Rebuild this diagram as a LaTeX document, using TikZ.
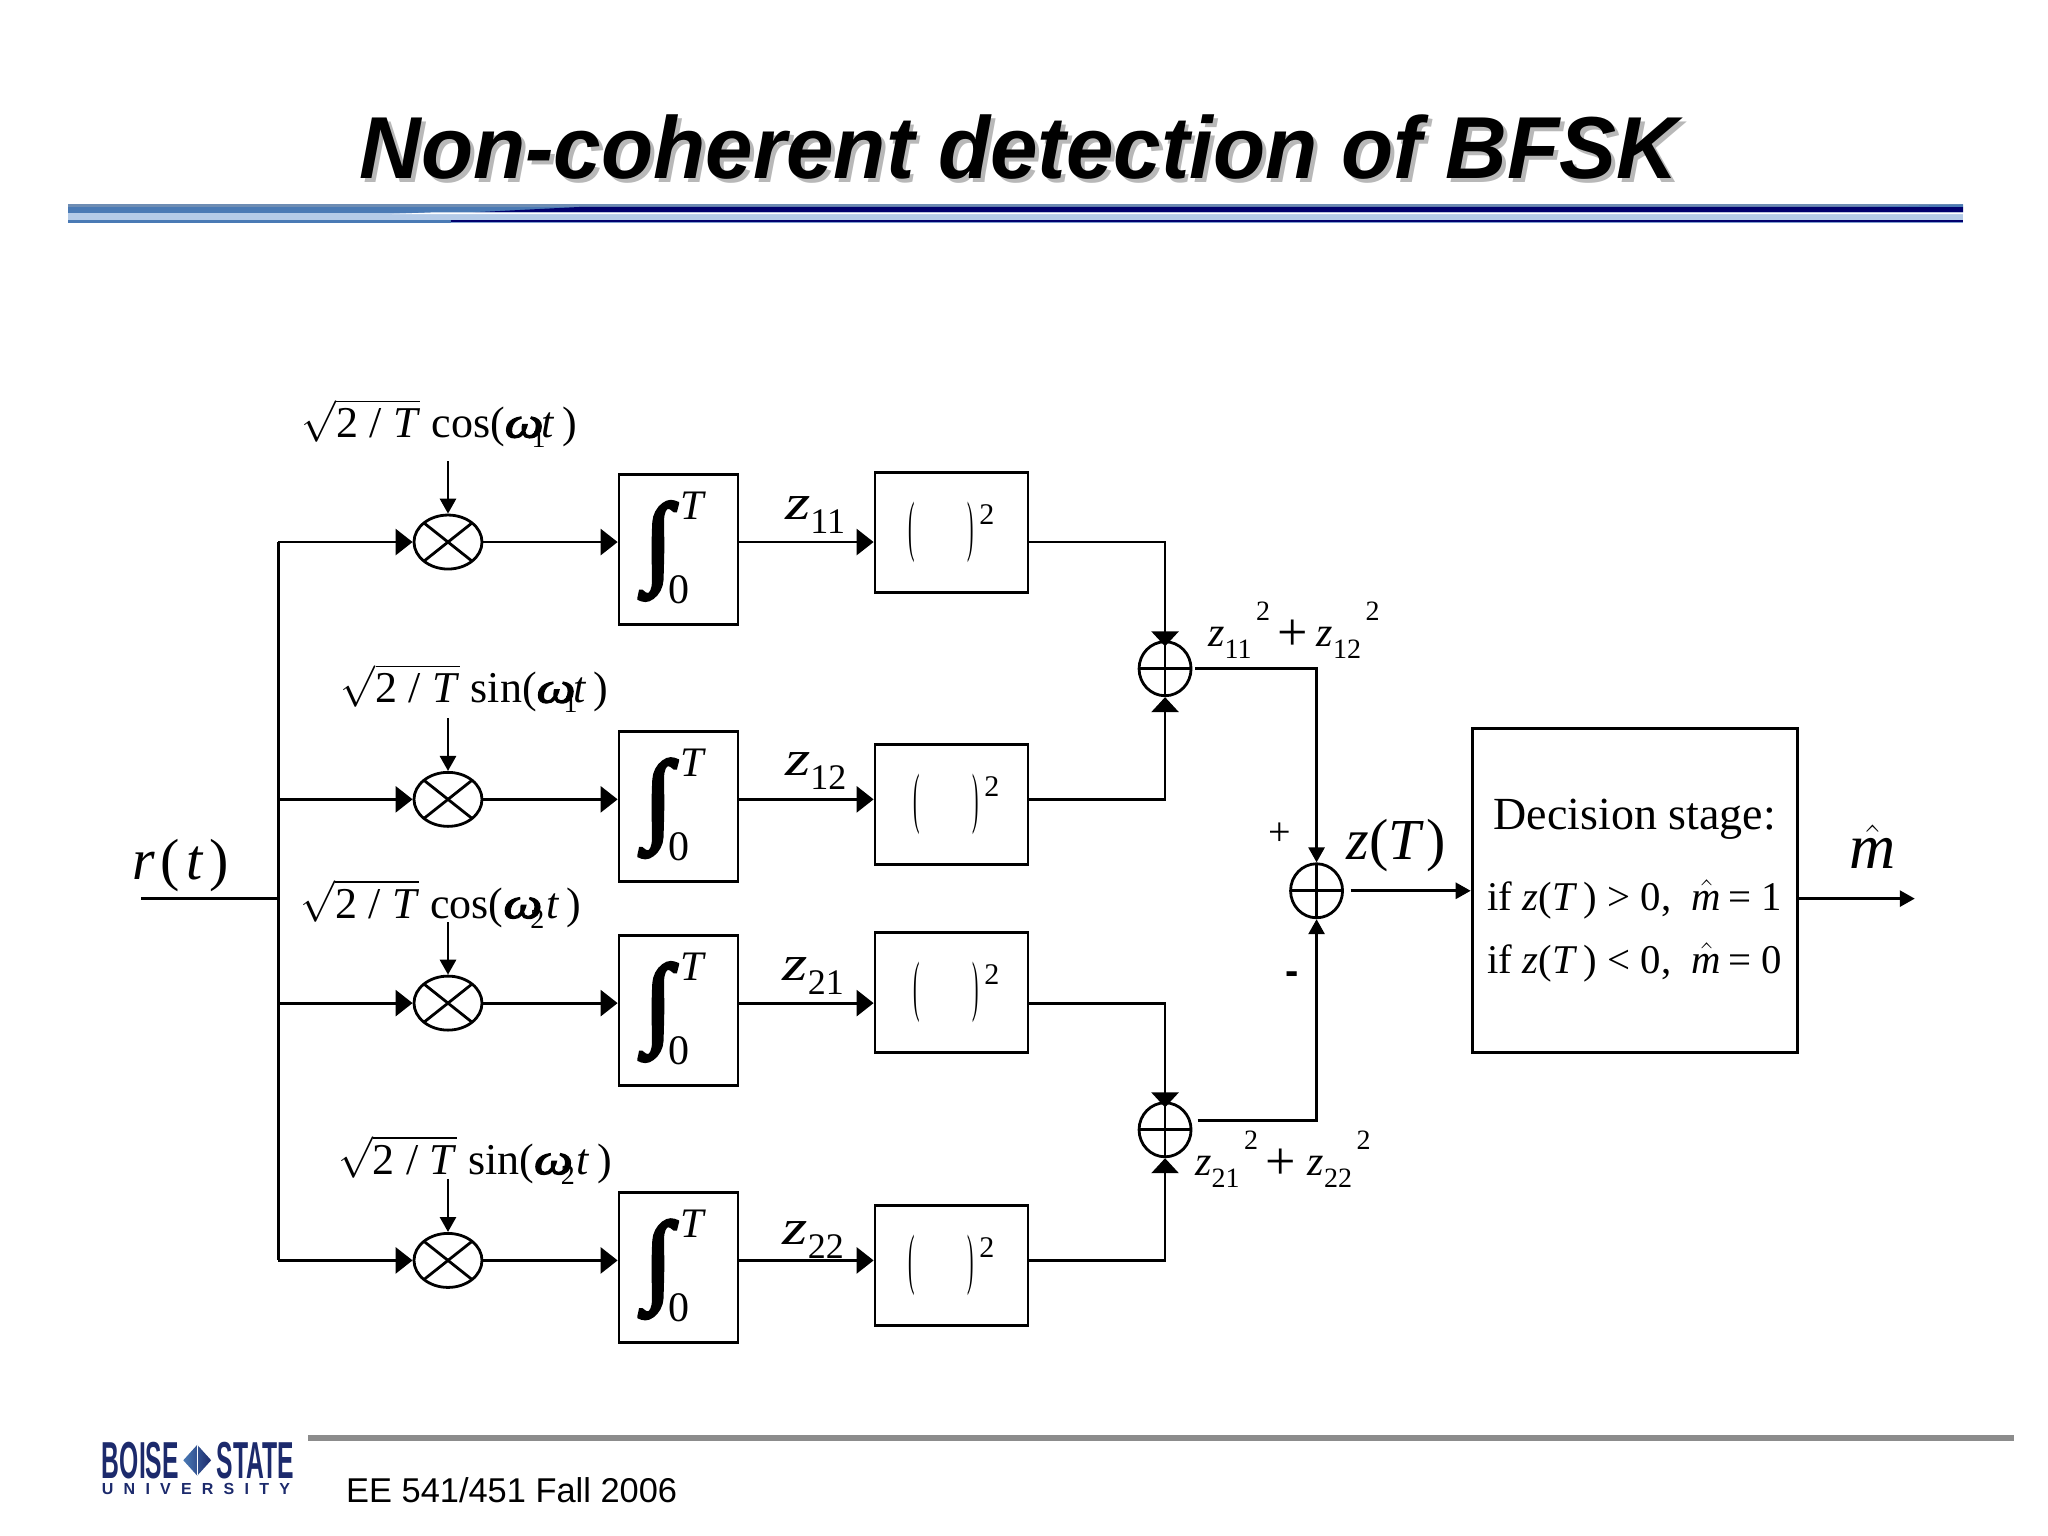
\documentclass[tikz,border=0pt]{standalone}
\usepackage{amsmath}
\usepackage{fontspec}
\usepackage{tikz}
\usetikzlibrary{arrows.meta,shapes.geometric}
\setmainfont{Liberation Serif}
\newfontfamily\sansf{Liberation Sans}
\newfontfamily\fatf[FakeBold=2.5]{Liberation Serif}
\newfontfamily\fatterf[FakeBold=4]{Liberation Serif}

\definecolor{bandblue}{HTML}{4A7AB5}
\definecolor{bandnavy}{HTML}{00006E}
\definecolor{bandpale}{HTML}{B4CBE8}
\definecolor{bandedge}{HTML}{6E8DB4}
\definecolor{bandlow}{HTML}{7F9FD0}
\definecolor{logonavy}{HTML}{1C2A6C}
\definecolor{footgray}{HTML}{8C8C8C}

% labels
\newcommand{\osc}[3]{$\sqrt{\mbox{2\hspace{5.7pt}/\hspace{5.7pt}\textit{T}}}$ #1({\fatf\itshape\scalebox{1.25}[1]{ω}}\hspace{-6pt}\rlap{\raisebox{-5pt}{\fontsize{14}{14}\selectfont #2}}\hspace{#3}\textit{t}\,)}
\newcommand{\zlab}[1]{\scalebox{1.3}[1]{\textit{z}}\raisebox{-7pt}{\fontsize{18}{18}\selectfont #1}}
\newcommand{\zpow}[1]{\textit{z}\raisebox{-6pt}{\fontsize{14}{14}\selectfont #1}\raisebox{13pt}{\fontsize{14}{14}\selectfont\,2}}
\newcommand{\intsym}{\smash{\rlap{\hspace{1pt}\raisebox{15pt}{\textit{T}}}\rlap{\hspace{-5pt}\raisebox{-27pt}{0}}\rlap{\hspace{-17pt}\raisebox{-12pt}{\fontsize{50}{50}\fatterf ∫}}}}
\newcommand{\sqsym}{\scalebox{.6}[2.1]{(}\hspace{26pt}\scalebox{.6}[2.1]{)}\hspace{3pt}\raisebox{12pt}{\fontsize{15}{15}\selectfont 2}}
\newcommand{\mhat}{$\hat{\mbox{\textit{m}}}$}
\newcommand{\bigplus}{\raisebox{-2pt}{\fontsize{27}{27}\selectfont +}}

\begin{document}
\begin{tikzpicture}[x=.653pt, y=-.653pt, line width=1.4pt]

\tikzstyle{wire} = [-{Triangle[length=8.5pt,width=13pt]}]
\tikzstyle{tinywire} = [-{Triangle[length=7.5pt,width=8pt]}]
\tikzstyle{addwire} = [-{Triangle[length=7.5pt,width=13.5pt]}]
\tikzstyle{txt} = [inner sep=0pt, anchor=base west]
\tikzstyle{intbox} = [rectangle, draw, inner sep=0pt, minimum width=59.5pt, minimum height=75pt, font=\fontsize{21}{21}\selectfont]
\tikzstyle{sqbox} = [rectangle, draw, inner sep=0pt, minimum width=76.5pt, minimum height=60pt, font=\fontsize{16}{16}\selectfont]
\tikzstyle{mult} = [ellipse, draw, inner sep=0pt, minimum width=34pt, minimum height=27pt,
  path picture={\draw (path picture bounding box.north west) -- (path picture bounding box.south east);
                \draw (path picture bounding box.south west) -- (path picture bounding box.north east);}]
\tikzstyle{adder} = [ellipse, draw, inner sep=0pt, minimum width=26pt, minimum height=27pt,
  path picture={\draw (path picture bounding box.north) -- (path picture bounding box.south);
                \draw (path picture bounding box.west) -- (path picture bounding box.east);}]
\tikzstyle{osclab} = [txt, font=\fontsize{22}{22}\selectfont]
\tikzstyle{zlabel} = [txt, font=\fontsize{25}{25}\selectfont]
\tikzstyle{zsum} = [txt, font=\fontsize{21}{21}\selectfont]

\useasboundingbox (0,0) rectangle (1568,1176);

% title and band
\node[txt, anchor=base, text=black!28, font=\fontsize{44}{44}\selectfont\sansf\bfseries\itshape] (titleshadow) at (783,140) {\scalebox{.97}[1]{Non-coherent detection of BFSK}};
\node[txt, anchor=base, font=\fontsize{44}{44}\selectfont\sansf\bfseries\itshape] (title) at (780,137) {\scalebox{.97}[1]{Non-coherent detection of BFSK}};

\fill[bandedge] (52,156.2) rectangle (1503,158.3);
\fill[bandblue] (52,158.3) rectangle (1503,163.2);
\fill[bandnavy] (362,162.6) -- (447,158.3) -- (1503,158.3) -- (1503,162.6) -- cycle;
\fill[bandblue] (1430,158.3) -- (1503,156.5) -- (1503,158.3) -- cycle;
\fill[bandpale] (52,163.2) rectangle (1503,168.5);
\fill[white] (300,163.9) -- (332,162.6) -- (1503,162.6) -- (1503,163.9) -- cycle;
\fill[bandblue] (52,168.5) rectangle (345,170.5);
\fill[bandnavy] (345,168.5) rectangle (1503,169.7);
\fill[bandlow] (345,169.7) rectangle (1503,170.5);

% input and bus
\node[txt, font=\fontsize{29}{29}\selectfont] (rlab) at (100,673) {\textit{r}\hspace{3pt}(\hspace{3pt}\textit{t}\hspace{3pt})};
\coordinate (rin) at (108,688);
\coordinate (b1) at (213,415);
\coordinate (b2) at (213,612);
\coordinate (b3) at (213,768);
\coordinate (b4) at (213,965);
\draw (b1) -- (b4);
\draw (rin) -- (rin -| b1);

% first row
\node[osclab] (o1) at (230,335) {\osc{cos}{1}{5pt}};
\node[mult] (m1) at (343,415) {};
\node[intbox] (i1) at (519.5,420.5) {\intsym};
\node[zlabel] (zl1) at (600,398) {\zlab{11}};
\node[sqbox] (q1) at (728.5,407.5) {\sqsym};
\coordinate (f1) at (343,353);

% second row
\node[osclab] (o2) at (260,538) {\osc{sin}{1}{5pt}};
\node[mult] (m2) at (343,612) {};
\node[intbox] (i2) at (519.5,617.5) {\intsym};
\node[zlabel] (zl2) at (600,594) {\zlab{12}};
\node[sqbox] (q2) at (728.5,616) {\hspace{5pt}\sqsym};
\coordinate (f2) at (343,550);

% third row
\node[osclab] (o3) at (229,703) {\osc{cos}{2}{8pt}};
\node[mult] (m3) at (343,768) {};
\node[intbox] (i3) at (519.5,773.5) {\intsym};
\node[zlabel] (zl3) at (598,751) {\zlab{21}};
\node[sqbox] (q3) at (728.5,760) {\hspace{5pt}\sqsym};
\coordinate (f3) at (343,706);

% fourth row
\node[osclab] (o4) at (258,899) {\osc{sin}{2}{8pt}};
\node[mult] (m4) at (343,965) {};
\node[intbox] (i4) at (519.5,970.5) {\intsym};
\node[zlabel] (zl4) at (598,953) {\zlab{22}};
\node[sqbox] (q4) at (728.5,969) {\sqsym};
\coordinate (f4) at (343,903);

% adders
\node[adder] (s1) at (892,512) {};
\node[adder] (s2) at (892,865) {};
\node[adder] (s3) at (1008,682) {};
\node[zsum] (sl1) at (924,495) {\zpow{11}\,\bigplus\,\hspace{1pt}\zpow{12}};
\node[zsum] (sl2) at (914,900) {\zpow{21}\,\bigplus\,\hspace{2.5pt}\zpow{22}};
\node[txt, font=\fontsize{20}{20}\selectfont] (plus) at (970,647) {+};
\node[txt, anchor=center, font=\fontsize{20}{20}\selectfont\sansf\bfseries] (minus) at (989,749) {-};
\node[txt, font=\fontsize{29}{29}\selectfont] (zt) at (1030,658) {\textit{z}(\textit{T}\hspace{1pt})};
\coordinate (o5) at (915,512);
\coordinate (o6) at (917,858);
\coordinate (o7) at (1034,682);

% decision
\node[rectangle, draw, inner sep=0pt, align=center, minimum width=162.5pt, minimum height=162pt] (dec) at (1251.5,681.5) {%
  {\fontsize{23}{23}\selectfont Decision stage:}\\[19.5pt]
  {\fontsize{20.4}{20.4}\selectfont if \textit{z}(\textit{T}\,) > 0,\ \ \mhat\,= 1}\\[11pt]
  {\fontsize{20.4}{20.4}\selectfont if \textit{z}(\textit{T}\,) < 0,\ \ \mhat\,= 0}};
\node[txt, font=\fontsize{32}{32}\selectfont] (mlab) at (1415,665) {\mhat};
\coordinate (mout) at (1466,688);

% connectors
\draw[wire] (b1) -- (m1.west);
\draw[wire] (b2) -- (m2.west);
\draw[wire] (b3) -- (m3.west);
\draw[wire] (b4) -- (m4.west);

\draw[tinywire] (f1) -- (m1.north);
\draw[tinywire] (f2) -- (m2.north);
\draw[tinywire] (f3) -- (m3.north);
\draw[tinywire] (f4) -- (m4.north);

\draw[wire] (m1.east) -- (i1.west |- m1);
\draw[wire] (m2.east) -- (i2.west |- m2);
\draw[wire] (m3.east) -- (i3.west |- m3);
\draw[wire] (m4.east) -- (i4.west |- m4);

\draw[wire] (i1.east |- m1) -- (q1.west |- m1);
\draw[wire] (i2.east |- m2) -- (q2.west |- m2);
\draw[wire] (i3.east |- m3) -- (q3.west |- m3);
\draw[wire] (i4.east |- m4) -- (q4.west |- m4);

\draw[addwire, shorten >=-3pt] (q1.east |- m1) -| (s1.north);
\draw[addwire] (q2.east |- m2) -| (s1.south);
\draw[addwire, shorten >=-3pt] (q3.east |- m3) -| (s2.north);
\draw[addwire] (q4.east |- m4) -| (s2.south);

\draw[tinywire] (o5) -| (s3.north);
\draw[tinywire] (o6) -| (s3.south);
\draw[tinywire] (o7) -- (dec.west |- o7);
\draw[tinywire] (dec.east |- mout) -- (mout);

% footer
\fill[footgray] (236,1099) rectangle (1542,1103);
\node[txt, font=\fontsize{17.2}{17.2}\selectfont\sansf] (foot) at (264,1150) {EE 541/451 Fall 2006};
\node[txt, text=logonavy, font=\fontsize{26}{26}\selectfont\sansf\bfseries] (boise) at (77,1132) {\scalebox{.475}[1]{BOISE}};
\node[txt, text=logonavy, font=\fontsize{26}{26}\selectfont\sansf\bfseries] (state) at (165,1132) {\scalebox{.475}[1]{STATE}};
\node[diamond, left color=bandblue, right color=logonavy, inner sep=0pt, minimum width=14.5pt, minimum height=16pt, aspect=1,
  path picture={\draw[white, line width=.3pt] (path picture bounding box.north) -- (path picture bounding box.south);}] (logomark) at (151,1118) {};
\node[txt, text=logonavy, font=\fontsize{8}{8}\selectfont\sansf\bfseries] (univ) at (77,1144) {\makebox[94pt][s]{U\hfill N\hfill I\hfill V\hfill E\hfill R\hfill S\hfill I\hfill T\hfill Y}};

\end{tikzpicture}
\end{document}
